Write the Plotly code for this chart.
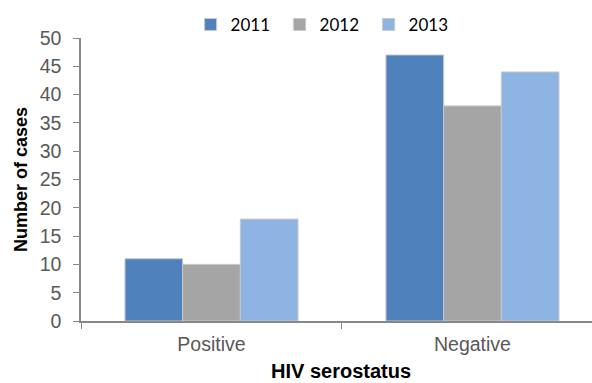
import plotly.graph_objects as go

categories = ["Positive", "Negative"]
years = ["2011", "2012", "2013"]
cases_2011 = [11, 47]
cases_2012 = [10, 38]
cases_2013 = [18, 44]
colors = ["#4F81BD", "#A5A5A5", "#8EB4E3"]

fig = go.Figure()
for name, vals, col in zip(years, [cases_2011, cases_2012, cases_2013], colors):
    fig.add_trace(go.Bar(
        x=categories, y=vals, name=name,
        marker=dict(color=col, line=dict(color="#C8C8C8", width=1)),
    ))

fig.update_layout(
    width=592, height=383,
    margin=dict(l=81, r=0, t=38, b=62, autoexpand=False),
    paper_bgcolor="white", plot_bgcolor="white",
    barmode="group", bargap=0.337, bargroupgap=0,
    font=dict(family="Liberation Sans, Arial", color="#595959"),
    legend=dict(
        orientation="h", xref="container", yref="container",
        x=0.322, xanchor="left", y=0.935, yanchor="middle",
        font=dict(family="Lato, Calibri", size=17, color="black"),
        itemwidth=30, traceorder="normal",
        entrywidth=44, entrywidthmode="pixels",
    ),
    xaxis=dict(
        range=[-0.5, 1.458], type="category", tickson="boundaries",
        ticks="outside", ticklen=6, tickcolor="#888888",
        showline=True, linecolor="#888888", linewidth=1.5,
        tickfont=dict(size=19.5, color="#595959"), ticklabelstandoff=5,
    ),
    yaxis=dict(
        range=[0, 50], dtick=5, showgrid=False, zeroline=False,
        ticks="outside", ticklen=6, tickcolor="#888888",
        showline=True, linecolor="#888888", linewidth=1.5,
        tickfont=dict(size=19.5, color="#595959"), ticklabelstandoff=8,
        title=dict(text="<b>Number of cases</b>", font=dict(size=18, color="black"), standoff=7),
    ),
    annotations=[dict(
        text="<b>HIV serostatus</b>", xref="paper", yref="paper",
        x=0.509, y=-0.178, xanchor="center", yanchor="middle", showarrow=False,
        font=dict(family="Liberation Sans, Arial", size=20, color="black"),
    )],
)

fig.write_html("out.html")
